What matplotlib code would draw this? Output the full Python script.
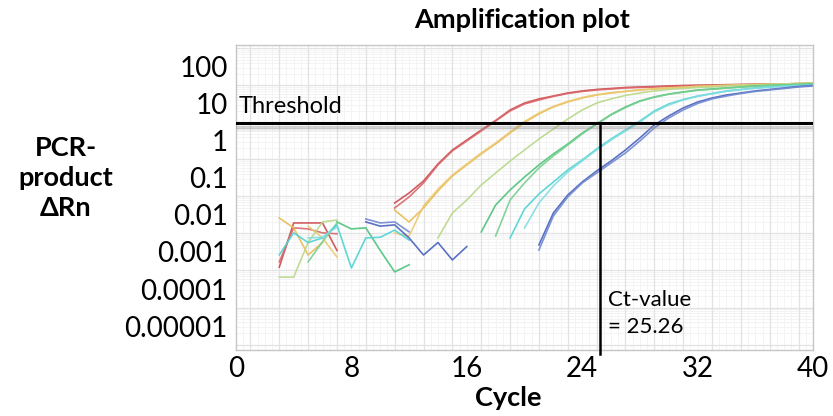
import numpy as np
import matplotlib.pyplot as plt
import matplotlib.patheffects as pe
from matplotlib.ticker import FixedLocator, NullFormatter

plt.rcParams['font.family'] = ['Lato', 'DejaVu Sans']

threshold = 3.0
ct_value = 25.26

y_ticks = [1e2, 1e1, 1e0, 1e-1, 1e-2, 1e-3, 1e-4, 1e-5]
y_labels = ["100", "10", "1", "0.1", "0.01", "0.001", "0.0001", "0.00001"]
x_ticks = [0, 8, 16, 24, 32, 40]

# each segment: (first cycle, delta Rn per cycle)
red_a_base = (3, [0.00039, 0.0061, 0.0061, 0.0061, 0.0011])
red_a_amp = (11, [0.0211, 0.0393, 0.083, 0.239, 0.571, 1.06, 1.98, 3.58, 6.88, 10.6,
                  13.7, 16.4, 19.8, 22.5, 24.7, 26.2, 27.9, 28.8, 29.7, 30.7,
                  31.6, 32.1, 32.6, 33.2, 33.7, 34.2, 34.7, 34.9, 35.4, 35.8])
red_b_base = (3, [0.00054, 0.0045, 0.0042, 0.0033, 0.0031])
red_b_amp = (11, [0.0155, 0.0307, 0.0733, 0.225, 0.54, 1.0, 1.86, 3.47, 6.47, 10.0,
                  12.8, 16.0, 19.2, 21.8, 23.9, 25.4, 27.1, 27.9, 28.8, 29.7,
                  30.7, 31.6, 32.1, 32.6, 33.2, 33.7, 34.2, 34.7, 35.0, 35.5])

yellow_a_base = (3, [0.0083, 0.0045, 0.00083, 0.0018])
yellow_a_amp = (11, [0.0136, 0.00647, 0.0155, 0.0445, 0.113, 0.225, 0.445, 0.83, 1.64, 3.16,
                     5.37, 8.3, 11.3, 14.5, 17.5, 19.8, 21.8, 23.9, 25.4, 27.1,
                     27.9, 29.7, 30.7, 31.6, 32.6, 33.2, 33.7, 34.7, 35.8, 36.9])
yellow_b_base = (5, [0.005, 0.0024, 0.00073])
yellow_b_amp = (11, [0.00326, 0.00271, 0.0175, 0.05, 0.12, 0.239, 0.474, 0.883, 1.75, 3.36,
                     5.71, 8.6, 11.7, 15.0, 17.8, 20.1, 22.1, 24.2, 25.7, 27.3,
                     28.3, 29.9, 30.9, 31.8, 32.8, 33.5, 34.0, 34.7, 35.5, 36.5])

lime_base = (3, [0.00021, 0.00021, 0.0018, 0.0065, 0.0073])
lime_amp = (14, [0.00239, 0.0113, 0.0254, 0.0647, 0.136, 0.288, 0.571, 1.13, 2.11, 3.93,
                 6.88, 10.6, 13.7, 17.0, 19.8, 22.5, 24.7, 26.2, 27.9, 28.8,
                 30.7, 31.6, 32.6, 33.7, 34.7, 35.8, 36.9])

green_a_base = (7, [0.0065, 0.0042, 0.0045, 0.0011, 0.00029, 0.00045])
green_a_amp = (17, [0.00347, 0.0186, 0.0474, 0.106, 0.225, 0.445, 0.83, 1.64, 2.88, 5.2,
                    8.3, 12.1, 15.5, 18.6, 21.1, 23.9, 25.4, 27.1, 28.8, 30.7,
                    31.6, 32.6, 33.7, 34.7])
green_b_base = (5, [0.00054, 0.0019, 0.0061])
green_b_amp = (18, [0.00271, 0.0254, 0.0733, 0.186, 0.393, 0.78, 1.55, 2.88, 5.04, 8.0,
                    11.8, 15.2, 18.3, 20.8, 23.5, 25.1, 26.8, 28.5, 30.2, 31.3,
                    32.3, 33.4, 34.4])

cyan_a_base = (3, [0.00083, 0.0033, 0.0018, 0.0024, 0.0054, 0.00037, 0.0024, 0.0025, 0.0039, 0.0021])
cyan_a_amp = (19, [0.00239, 0.0145, 0.0369, 0.078, 0.165, 0.307, 0.608, 1.13, 1.98, 3.47,
                   6.47, 10.0, 13.2, 16.4, 19.2, 22.5, 24.7, 27.1, 28.8, 30.7,
                   31.6, 32.6])
cyan_b_base = (5, [0.0024, 0.0025, 0.0047])
cyan_b_amp = (20, [0.00445, 0.0211, 0.0608, 0.145, 0.288, 0.571, 1.06, 1.86, 3.26, 6.1,
                   9.4, 12.8, 16.0, 18.8, 22.0, 24.3, 26.6, 28.4, 30.2, 31.3,
                   32.3])

blue_a_base = (9, [0.0065, 0.005, 0.0054, 0.0024, 0.00083, 0.0018, 0.00061, 0.0014])
blue_a_amp = (21, [0.00155, 0.0113, 0.0347, 0.078, 0.155, 0.288, 0.571, 1.21, 2.71, 4.74,
                   7.8, 11.3, 14.5, 17.5, 19.8, 22.5, 24.7, 27.1, 29.7, 31.6])
blue_b_base = (9, [0.0078, 0.0061, 0.0065, 0.0035])
blue_b_amp = (21, [0.00113, 0.0094, 0.0307, 0.0733, 0.136, 0.254, 0.474, 1.0, 2.25, 4.18,
                   6.88, 10.3, 13.7, 16.4, 19.2, 21.8, 23.9, 26.2, 28.8, 30.7])

samples = [
    ("#cc4a4e", [red_a_base, red_a_amp]),
    ("#d9676b", [red_b_base, red_b_amp]),
    ("#e6bd55", [yellow_a_base, yellow_a_amp]),
    ("#ecca72", [yellow_b_base, yellow_b_amp]),
    ("#b9d889", [lime_base, lime_amp]),
    ("#4cc27c", [green_a_base, green_a_amp]),
    ("#78cf8f", [green_b_base, green_b_amp]),
    ("#4fd2d4", [cyan_a_base, cyan_a_amp]),
    ("#84dde0", [cyan_b_base, cyan_b_amp]),
    ("#4862bf", [blue_a_base, blue_a_amp]),
    ("#7189cf", [blue_b_base, blue_b_amp]),
]

fig = plt.figure(figsize=(8.33, 4.16), dpi=100)
ax = fig.add_axes([0.2833, 0.1587, 0.6927, 0.7332])
ax.set_yscale("log")
ax.set_xlim(0, 40)
ax.set_ylim(2.25e-6, 393)

# background grid: half-decade and odd-cycle lines, plus a faint fine mesh
half_decades = [10 ** (k + 0.5) for k in range(-6, 3)]
fine = [h * m for h in half_decades for m in range(2, 10)]
ax.hlines(fine, 0, 40, color="#f1f1f1", lw=0.6, zorder=0)
ax.vlines(np.arange(0, 40.5, 0.5), 2.25e-6, 393, color="#f3f3f3", lw=0.6, zorder=0)
ax.yaxis.set_minor_locator(FixedLocator(half_decades))
ax.yaxis.set_minor_formatter(NullFormatter())
ax.xaxis.set_minor_locator(FixedLocator(np.arange(1, 40, 2)))
ax.grid(which="minor", color="#e2e2e2", lw=0.9, zorder=0)

for color, segments in samples:
    for start, values in segments:
        cycles = np.arange(start, start + len(values))
        ax.plot(cycles, values, color=color, lw=1.2, alpha=0.9, zorder=2)

ax.axhline(threshold, color="black", lw=2.2, zorder=4,
           path_effects=[pe.SimpleLineShadow(offset=(0, -2.5), shadow_color="#888888", alpha=0.35),
                         pe.SimpleLineShadow(offset=(0, -4), shadow_color="#aaaaaa", alpha=0.2),
                         pe.Normal()])
ax.plot([ct_value, ct_value], [threshold, 1.8e-6], color="black", lw=1.8, zorder=4, clip_on=False)

ax.set_yticks(y_ticks)
ax.set_yticklabels(y_labels)
ax.set_xticks(x_ticks)
ax.tick_params(which="both", length=0, labelsize=20, colors="black")
ax.tick_params(axis="y", pad=6)
ax.tick_params(axis="x", pad=4)
for side in ["left", "bottom", "top", "right"]:
    ax.spines[side].set_color("#c6c6c6")
    ax.spines[side].set_linewidth(1.0)

fig.text(0.627, 0.952, "Amplification plot", ha="center", va="center",
         fontsize=19.5, fontweight="bold")
fig.text(0.61, 0.043, "Cycle", ha="center", va="center", fontsize=19.5, fontweight="bold")
fig.text(0.079, 0.572, "PCR-\nproduct\n\u0394Rn", ha="center", va="center",
         fontsize=19.5, fontweight="bold", linespacing=1.28)
ax.text(0.15, threshold * 1.85, "Threshold", ha="left", va="baseline", fontsize=17)
ax.text(25.8, 2.2e-5, f"Ct-value\n= {ct_value:.2f}", ha="left", va="center",
        fontsize=16, linespacing=1.45)

fig.savefig("out.png", dpi=100)
